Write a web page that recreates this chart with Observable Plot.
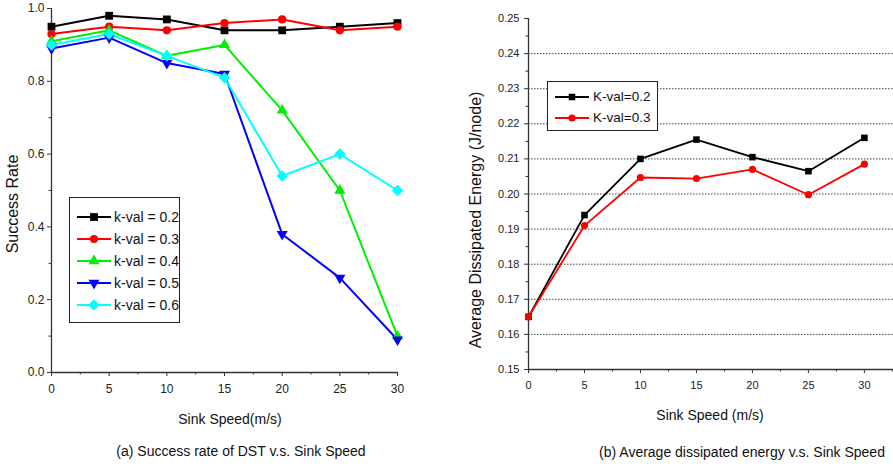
<!DOCTYPE html>
<html><head><meta charset="utf-8">
<script src="https://cdn.jsdelivr.net/npm/d3@7"></script>
<script src="https://cdn.jsdelivr.net/npm/@observablehq/plot@0.6"></script>
<style>
body{margin:0;background:#fff;font-family:"Liberation Sans",Arial,sans-serif;}
#wrap{position:relative;width:893px;height:466px;overflow:hidden;background:#fff;}
.abs{position:absolute;}
.lbl{position:absolute;white-space:nowrap;color:#111;transform:translate(-50%,-50%);}
.rot{transform:translate(-50%,-50%) rotate(-90deg);}
.legend{position:absolute;border:1px solid #222;background:#fff;box-sizing:border-box;}
.legend .row{display:flex;align-items:center;white-space:nowrap;color:#111;}
</style></head><body><div id="wrap"></div>
<script>
// ---- data ----
const speeds = [0, 5, 10, 15, 20, 25, 30];
const successLabels = ["k-val = 0.2", "k-val = 0.3", "k-val = 0.4", "k-val = 0.5", "k-val = 0.6"];
const success02 = [0.95, 0.98, 0.97, 0.94, 0.94, 0.95, 0.96];
const success03 = [0.93, 0.95, 0.94, 0.96, 0.97, 0.94, 0.95];
const success04 = [0.91, 0.94, 0.87, 0.90, 0.72, 0.50, 0.10];
const success05 = [0.89, 0.92, 0.85, 0.82, 0.38, 0.26, 0.09];
const success06 = [0.90, 0.93, 0.87, 0.81, 0.54, 0.60, 0.50];
const successColors = ["#000000", "#ff0000", "#00ee00", "#0000ff", "#00ffff"];
const successSymbols = ["square", "circle", "triangle", "triangle", "diamond2"];
const successRotate = [0, 0, 0, 180, 0];
const successSizes = [4.4, 4.1, 4.1, 4.1, 5.2];
const successYTicks = [0, 0.2, 0.4, 0.6, 0.8, 1.0];
const successYMinor = [0.1, 0.3, 0.5, 0.7, 0.9];
const xTicks = [0, 5, 10, 15, 20, 25, 30];
const xMinorA = [2.5, 7.5, 12.5, 17.5, 22.5, 27.5];

const energyLabels = ["K-val=0.2", "K-val=0.3"];
const energy02 = [0.165, 0.194, 0.210, 0.2155, 0.2105, 0.2065, 0.216];
const energy03 = [0.165, 0.191, 0.2047, 0.2044, 0.2070, 0.1998, 0.2085];
const energyColors = ["#000000", "#ff0000"];
const energySymbols = ["square", "circle"];
const energySizes = [3.7, 3.6];
const energyYTicks = [0.15, 0.16, 0.17, 0.18, 0.19, 0.20, 0.21, 0.22, 0.23, 0.24, 0.25];
const energyYMinor = [0.155, 0.165, 0.175, 0.185, 0.195, 0.205, 0.215, 0.225, 0.235, 0.245];
const energyGrid = [0.16, 0.17, 0.18, 0.19, 0.20, 0.21, 0.22, 0.23, 0.24];
const xMinorB = [2.5, 7.5, 12.5, 17.5, 22.5, 27.5, 32.5];

const wrap = document.getElementById("wrap");
const FONT = '"Liberation Sans", Arial, sans-serif';

function addLabel(text, x, y, size, rotate) {
  const d = document.createElement("div");
  d.className = "lbl" + (rotate ? " rot" : "");
  d.style.left = x + "px"; d.style.top = y + "px"; d.style.fontSize = size + "px";
  d.textContent = text;
  wrap.appendChild(d);
}
function swatch(color, symbol, rotate, r, lineW) {
  const w = 34, h = 14;
  const svg = d3.create("svg").attr("width", w).attr("height", h).style("display","block");
  svg.append("line").attr("x1",0).attr("x2",w).attr("y1",h/2).attr("y2",h/2).attr("stroke",color).attr("stroke-width",lineW);
  const symMap = {square:d3.symbolSquare, circle:d3.symbolCircle, triangle:d3.symbolTriangle, diamond2:d3.symbolDiamond2};
  svg.append("path").attr("d", d3.symbol(symMap[symbol], Math.PI*r*r)())
    .attr("transform", `translate(${w/2},${h/2}) rotate(${rotate})`).attr("fill", color);
  return svg.node();
}
function addLegend(labels, colors, symbols, rot, sizes, left, top, width, height, rowH, size, padL, gap, lw) {
  const box = document.createElement("div");
  box.className = "legend";
  Object.assign(box.style, {left:left+"px", top:top+"px", width:width+"px", height:height+"px", paddingTop:((height - rowH*labels.length)/2)+"px", paddingLeft:padL+"px"});
  labels.forEach((l,i) => {
    const row = document.createElement("div");
    row.className = "row"; row.style.height = rowH + "px"; row.style.fontSize = size + "px";
    row.appendChild(swatch(colors[i], symbols[i], rot[i], sizes[i], lw));
    const t = document.createElement("span"); t.textContent = l; t.style.marginLeft = gap + "px";
    row.appendChild(t);
    box.appendChild(row);
  });
  wrap.appendChild(box);
}

// ---- chart (a) ----
const successSeries = [success02, success03, success04, success05, success06];
const rowsA = [];
successSeries.forEach((vals, i) => speeds.forEach((x, j) => rowsA.push({x, y: vals[j], key: successLabels[i], idx: i})));

const axisStroke = "#333";
const plotA = Plot.plot({
  width: 440, height: 430,
  marginLeft: 51, marginRight: 43, marginTop: 8, marginBottom: 58,
  style: {fontFamily: FONT, fontSize: "12px", color: "#222", background: "transparent"},
  x: {domain: [0, 30], label: null},
  y: {domain: [0, 1], label: null},
  marks: [
    Plot.axisX(xTicks, {tickSize: 4, tickPadding: 8, stroke: axisStroke, fontSize: 12, label: null}),
    Plot.axisX(xMinorA, {tickSize: 2.5, tickFormat: () => "", stroke: axisStroke, label: null}),
    Plot.axisY(successYTicks, {tickSize: 4, tickPadding: 3, tickFormat: d3.format(".1f"), stroke: axisStroke, fontSize: 12, label: null}),
    Plot.axisY(successYMinor, {tickSize: 2.5, tickFormat: () => "", stroke: axisStroke, label: null}),
    Plot.ruleX([0], {stroke: axisStroke, strokeWidth: 1.3}),
    Plot.ruleY([0], {stroke: axisStroke, strokeWidth: 1.3}),
    ...successLabels.map((lab, i) => Plot.line(rowsA.filter(d => d.idx === i), {x: "x", y: "y", stroke: successColors[i], strokeWidth: 2})),
    ...successLabels.map((lab, i) => Plot.dot(rowsA.filter(d => d.idx === i), {x: "x", y: "y", fill: successColors[i], symbol: successSymbols[i], rotate: successRotate[i], r: successSizes[i]}))
  ]
});
plotA.classList.add("abs");
plotA.style.left = "0px"; plotA.style.top = "0px";
wrap.appendChild(plotA);

// ---- chart (b) ----
const energySeries = [energy02, energy03];
const rowsB = [];
energySeries.forEach((vals, i) => speeds.forEach((x, j) => rowsB.push({x, y: vals[j], key: energyLabels[i], idx: i})));

const plotB = Plot.plot({
  width: 453, height: 430,
  marginLeft: 88, marginRight: 0, marginTop: 18, marginBottom: 61,
  style: {fontFamily: FONT, fontSize: "11px", color: "#222", background: "transparent"},
  x: {domain: [0, 32.6], label: null},
  y: {domain: [0.15, 0.25], label: null},
  marks: [
    Plot.ruleY(energyGrid, {stroke: "#444", strokeWidth: 1, strokeDasharray: "1.5,1.5"}),
    Plot.axisX(xTicks, {tickSize: 4, tickPadding: 8, stroke: axisStroke, fontSize: 11, label: null}),
    Plot.axisX(xMinorB, {tickSize: 2.5, tickFormat: () => "", stroke: axisStroke, label: null}),
    Plot.axisY(energyYTicks, {tickSize: 4, tickPadding: 5, tickFormat: d3.format(".2f"), stroke: axisStroke, fontSize: 11, label: null}),
    Plot.axisY(energyYMinor, {tickSize: 2.5, tickFormat: () => "", stroke: axisStroke, label: null}),
    Plot.ruleX([0], {stroke: axisStroke, strokeWidth: 1.3}),
    Plot.ruleY([0.15], {stroke: axisStroke, strokeWidth: 1.3}),
    ...energyLabels.map((lab, i) => Plot.line(rowsB.filter(d => d.idx === i), {x: "x", y: "y", stroke: energyColors[i], strokeWidth: 1.8})),
    ...energyLabels.map((lab, i) => Plot.dot(rowsB.filter(d => d.idx === i), {x: "x", y: "y", fill: energyColors[i], symbol: energySymbols[i], r: energySizes[i]}))
  ]
});
plotB.classList.add("abs");
plotB.style.left = "440px"; plotB.style.top = "0px";
wrap.appendChild(plotB);

// ---- texts ----
addLabel("Success Rate", 13, 204, 16, true);
addLabel("Sink Speed(m/s)", 230, 419, 14, false);
addLabel("(a) Success rate of DST v.s. Sink Speed", 241, 451, 14, false);
addLabel("Average Dissipated Energy (J/node)", 476, 220, 16, true);
addLabel("Sink Speed (m/s)", 710, 415, 14, false);
addLabel("(b) Average dissipated energy v.s. Sink Speed", 742, 452, 14, false);

// ---- legends ----
addLegend(successLabels, successColors, successSymbols, successRotate, successSizes, 69, 197, 111, 126, 21.8, 14, 7, 3, 2);
addLegend(energyLabels, energyColors, energySymbols, [0,0], energySizes, 547, 81, 111, 50, 21, 13.5, 7, 4, 1.8);
</script>
</body></html>
